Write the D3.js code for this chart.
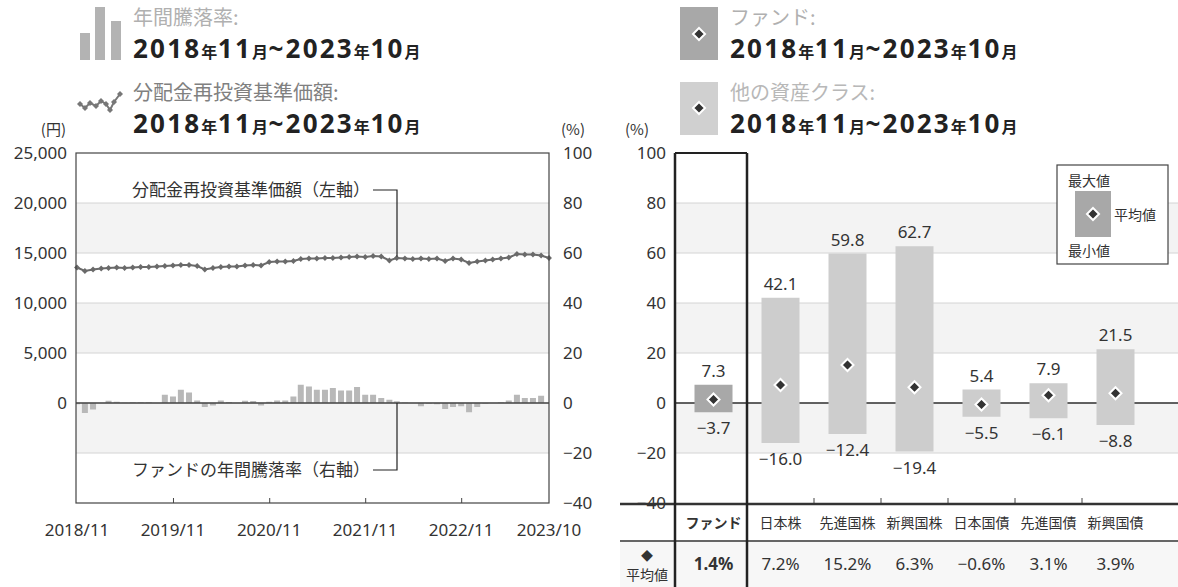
<!DOCTYPE html>
<html>
<head>
<meta charset="utf-8">
<script src="https://cdn.jsdelivr.net/npm/d3@7"></script>
<style>
  body { margin: 0; background: #fff; }
  text { font-family: "Noto Sans CJK JP", "Noto Sans", sans-serif; fill: #333; }
  .num, .num text { font-family: "Noto Sans", "Noto Sans CJK JP", sans-serif; }
</style>
</head>
<body>
<div id="chart"></div>
<script>
// ---- data ----
const startMonth = new Date(2018, 10, 1);
const endMonth = new Date(2023, 9, 1);
const xTickDates = [new Date(2018, 10, 1), new Date(2019, 10, 1), new Date(2020, 10, 1),
  new Date(2021, 10, 1), new Date(2022, 10, 1), new Date(2023, 9, 1)];

// 分配金再投資基準価額 (円), 2018/11 .. 2023/10
const navValues = [13550, 13200, 13350, 13450, 13500, 13550, 13500, 13550, 13600, 13600,
  13650, 13700, 13750, 13800, 13800, 13700, 13350, 13500, 13600, 13650,
  13650, 13750, 13800, 13750, 14100, 14150, 14150, 14200, 14400, 14450,
  14450, 14500, 14500, 14550, 14600, 14650, 14600, 14700, 14650, 14250,
  14500, 14450, 14400, 14450, 14400, 14450, 14200, 14450, 14350, 14000,
  14150, 14250, 14350, 14450, 14550, 14900, 14850, 14850, 14750, 14500];

// ファンドの年間騰落率 (%)
const returnValues = [-0.5, -4.0, -2.6, 0.0, 0.9, 0.5, 0.1, 0.3, 0.3, 0.3,
  0.0, 3.3, 2.6, 5.3, 4.2, 1.0, -1.6, -1.0, 1.0, 0.4,
  0.0, 0.9, 0.8, -1.0, 0.5, 1.0, 1.0, 2.6, 7.3, 6.6,
  5.3, 5.3, 6.0, 5.0, 5.0, 6.4, 3.3, 3.3, 2.0, 1.3,
  0.7, 0.2, 0.0, -1.3, -0.3, -0.5, -2.4, -1.6, -1.3, -3.7,
  -1.6, -0.3, 0.0, 0.3, 1.0, 3.3, 2.0, 2.0, 2.9, 0.0];

const leftTicks = [0, 5000, 10000, 15000, 20000, 25000];
const pctTicks = [-40, -20, 0, 20, 40, 60, 80, 100];

const categories = ['ファンド', '日本株', '先進国株', '新興国株', '日本国債', '先進国債', '新興国債'];
const maxValues = [7.3, 42.1, 59.8, 62.7, 5.4, 7.9, 21.5];
const minValues = [-3.7, -16.0, -12.4, -19.4, -5.5, -6.1, -8.8];
const avgValues = [1.4, 7.2, 15.2, 6.3, -0.6, 3.1, 3.9];

// ---- layout ----
const W = 1178, H = 587;
const svg = d3.select('#chart').append('svg')
  .attr('width', W)
  .attr('height', H);

const plotTop = 153, plotBottom = 503;
const L = {x0: 76, x1: 549};
const R = {x0: 675, x1: 1178};

const fmtPct = d3.format('.1f');
const months = d3.timeMonth.range(startMonth, d3.timeMonth.offset(endMonth, 1));

const x = d3.scaleTime()
  .domain([startMonth, endMonth])
  .range([L.x0 + 1, L.x1]);
const yLeft = d3.scaleLinear().domain([-10000, 25000]).range([plotBottom, plotTop]);
const yPct = d3.scaleLinear().domain([-40, 100]).range([plotBottom, plotTop]);

// legend period text with small 年/月
function period(g, px, py) {
  const t = g.append('text').attr('x', px).attr('y', py)
    .style('font-weight', 700).style('fill', '#222');
  const parts = [['2018', 26], ['年', 16], ['11', 26], ['月', 16], ['~2023', 26], ['年', 16], ['10', 26], ['月', 16]];
  parts.forEach(([s, fs]) => t.append('tspan')
    .style('font-size', fs + 'px')
    .style('font-family', fs > 20 ? '"Noto Sans", sans-serif' : '"Noto Sans CJK JP", sans-serif')
    .style('letter-spacing', fs > 20 ? '2.2px' : '0.5px')
    .style('fill', '#222')
    .text(s));
}

function diamond(g, cx, cy, r) {
  g.append('path')
    .attr('d', `M${cx},${cy - r}L${cx + r},${cy}L${cx},${cy + r}L${cx - r},${cy}Z`)
    .attr('fill', '#333')
    .attr('stroke', '#fff')
    .attr('stroke-width', 2);
}

function bands(g, x0, x1) {
  pctTicks.slice(0, -1).forEach((v, i) => {
    if (i % 2 === 1) {
      g.append('rect')
        .attr('x', x0).attr('width', x1 - x0)
        .attr('y', yPct(v + 20)).attr('height', yPct(v) - yPct(v + 20))
        .attr('fill', '#f3f3f3');
    }
  });
  pctTicks.slice(1, -1).forEach(v => {
    g.append('line')
      .attr('x1', x0).attr('x2', x1)
      .attr('y1', yPct(v)).attr('y2', yPct(v))
      .attr('stroke', '#d4d4d4').attr('stroke-width', 1);
  });
}

// ---- top legends ----
const leg = svg.append('g');
[[80, 33, 10], [95, 7, 10], [111, 21, 10]].forEach(([bx, by, bw]) => {
  leg.append('rect').attr('x', bx).attr('y', by).attr('width', bw).attr('height', 60 - by).attr('fill', '#b3b3b3');
});
leg.append('text').attr('x', 133).attr('y', 24.5).style('font-size', '20px').style('fill', '#b0b0b0').text('年間騰落率:');
period(leg, 133, 58);

const iconPts = [[80, 104], [85, 108], [90, 103], [96, 106], [101, 101], [106, 104], [110, 110], [114, 102], [120, 94]];
leg.append('path').attr('d', d3.line()(iconPts)).attr('fill', 'none').attr('stroke', '#777').attr('stroke-width', 2);
iconPts.forEach(([px, py]) => leg.append('path').attr('d', `M${px},${py - 3}L${px + 3},${py}L${px},${py + 3}L${px - 3},${py}Z`).attr('fill', '#777'));
leg.append('text').attr('x', 133).attr('y', 99.5).style('font-size', '20px').style('fill', '#808080').text('分配金再投資基準価額:');
period(leg, 133, 133);

leg.append('rect').attr('x', 680).attr('y', 7).attr('width', 38).attr('height', 53).attr('fill', '#a8a8a8');
diamond(leg, 699, 34, 6);
leg.append('text').attr('x', 730).attr('y', 24.5).style('font-size', '20px').style('fill', '#b0b0b0').text('ファンド:');
period(leg, 730, 58);

leg.append('rect').attr('x', 680).attr('y', 82).attr('width', 38).attr('height', 53).attr('fill', '#d0d0d0');
diamond(leg, 699, 108, 6);
leg.append('text').attr('x', 730).attr('y', 99.5).style('font-size', '20px').style('fill', '#b8b8b8').text('他の資産クラス:');
period(leg, 730, 133);

// ---- left chart ----
const gl = svg.append('g');
bands(gl, L.x0, L.x1);

const clip = svg.append('clipPath').attr('id', 'clipL');
clip.append('rect').attr('x', L.x0).attr('y', plotTop).attr('width', L.x1 - L.x0).attr('height', plotBottom - plotTop);

gl.append('g').attr('clip-path', 'url(#clipL)')
  .selectAll('rect')
  .data(returnValues)
  .enter().append('rect')
    .attr('x', (d, i) => x(months[i]) - 3)
    .attr('width', 6)
    .attr('y', d => yPct(Math.max(0, d)))
    .attr('height', d => Math.abs(yPct(d) - yPct(0)))
    .attr('fill', '#b8b8b8');

gl.append('line')
  .attr('x1', L.x0).attr('x2', L.x1)
  .attr('y1', yPct(0)).attr('y2', yPct(0))
  .attr('stroke', '#444').attr('stroke-width', 1.5);

const navLine = d3.line()
  .x((d, i) => x(months[i]))
  .y(d => yLeft(d));
gl.append('path')
  .attr('d', navLine(navValues))
  .attr('fill', 'none')
  .attr('stroke', '#6a6a6a')
  .attr('stroke-width', 2);
gl.selectAll('.nav-pt')
  .data(navValues)
  .enter().append('path')
    .attr('class', 'nav-pt')
    .attr('d', d3.symbol(d3.symbolDiamond2, 22))
    .attr('transform', (d, i) => `translate(${x(months[i])},${yLeft(d)})`)
    .attr('fill', '#6a6a6a');

// annotations
gl.append('text').attr('x', 370).attr('y', 196).attr('text-anchor', 'end')
  .style('font-size', '17px').text('分配金再投資基準価額（左軸）');
gl.append('path').attr('d', `M373,190H397V${yLeft(navValues[41]) - 2}`)
  .attr('fill', 'none').attr('stroke', '#222').attr('stroke-width', 1.2);
gl.append('text').attr('x', 370).attr('y', 476).attr('text-anchor', 'end')
  .style('font-size', '17px').text('ファンドの年間騰落率（右軸）');
gl.append('path').attr('d', `M373,470H397V${yPct(0)}`)
  .attr('fill', 'none').attr('stroke', '#222').attr('stroke-width', 1.2);

// frame
gl.append('rect').attr('x', L.x0).attr('y', plotTop).attr('width', L.x1 - L.x0).attr('height', plotBottom - plotTop)
  .attr('fill', 'none').attr('stroke', '#444').attr('stroke-width', 1.2);

// axes
const axL = gl.append('g').attr('class', 'num').attr('transform', `translate(${L.x0},0)`)
  .call(d3.axisLeft(yLeft).tickValues(leftTicks).tickSize(0).tickPadding(9).tickFormat(d3.format(',')));
const axR = gl.append('g').attr('class', 'num').attr('transform', `translate(${L.x1},0)`)
  .call(d3.axisRight(yPct).tickValues(pctTicks).tickSize(0).tickPadding(14).tickFormat(d3.format('d')));
const axB = gl.append('g').attr('transform', `translate(0,${plotBottom})`)
  .call(d3.axisTop(x).tickValues(xTickDates).tickSize(5).tickFormat(''));
axB.selectAll('.tick').filter((d, i) => i === 0 || i === xTickDates.length - 1).remove();
gl.selectAll('.x-lab')
  .data(xTickDates)
  .enter().append('text')
    .attr('class', 'x-lab num')
    .attr('x', d => x(d))
    .attr('y', 536)
    .attr('text-anchor', 'middle')
    .style('font-size', '17px')
    .text(d3.timeFormat('%Y/%m'));
[axL, axR, axB].forEach(a => {
  a.select('.domain').remove();
  a.selectAll('text').style('font-size', '17px').style('fill', '#333');
  a.selectAll('line').attr('stroke', '#444');
});
gl.append('text').attr('x', 66).attr('y', 135).attr('text-anchor', 'end').style('font-size', '15px').text('(円)');
gl.append('text').attr('x', 573).attr('y', 135).attr('text-anchor', 'middle').style('font-size', '15px').text('(%)');

// ---- right chart ----
const gr = svg.append('g');
bands(gr, R.x0, R.x1);

const xc = d3.scaleBand()
  .domain(categories)
  .range([680, 1149]);

gr.append('line')
  .attr('x1', R.x0).attr('x2', R.x1)
  .attr('y1', yPct(0)).attr('y2', yPct(0))
  .attr('stroke', '#333').attr('stroke-width', 1.5);

const bw = 38;
gr.selectAll('.rng')
  .data(categories)
  .enter().append('rect')
    .attr('class', 'rng')
    .attr('x', d => xc(d) + xc.bandwidth() / 2 - bw / 2)
    .attr('width', bw)
    .attr('y', (d, i) => yPct(maxValues[i]))
    .attr('height', (d, i) => yPct(minValues[i]) - yPct(maxValues[i]))
    .attr('fill', (d, i) => i === 0 ? '#a8a8a8' : '#cdcdcd');

categories.forEach((c, i) => {
  const cx = xc(c) + xc.bandwidth() / 2;
  diamond(gr, cx, yPct(avgValues[i]), 6);
  gr.append('text').attr('class', 'num').attr('x', cx).attr('y', yPct(maxValues[i]) - 8)
    .attr('text-anchor', 'middle').style('font-size', '17px').text(fmtPct(maxValues[i]));
  gr.append('text').attr('class', 'num').attr('x', cx).attr('y', yPct(minValues[i]) + 22)
    .attr('text-anchor', 'middle').style('font-size', '17px').text(fmtPct(minValues[i]));
});

// bottom ticks between categories
gr.selectAll('.ctick')
  .data(categories.slice(1, -1))
  .enter().append('line')
    .attr('class', 'ctick')
    .attr('x1', d => xc(d) + xc.step()).attr('x2', d => xc(d) + xc.step())
    .attr('y1', plotBottom).attr('y2', plotBottom - 5)
    .attr('stroke', '#444');

const axR2 = gr.append('g').attr('class', 'num').attr('transform', `translate(${R.x0},0)`)
  .call(d3.axisLeft(yPct).tickValues(pctTicks).tickSize(0).tickPadding(9).tickFormat(d3.format('d')));
axR2.select('.domain').remove();
axR2.selectAll('text').style('font-size', '17px').style('fill', '#333');
gr.append('text').attr('x', 637).attr('y', 135).attr('text-anchor', 'middle').style('font-size', '15px').text('(%)');

// mini legend
const ml = gr.append('g');
ml.append('rect').attr('x', 1057).attr('y', 165).attr('width', 111).attr('height', 99)
  .attr('fill', '#fff').attr('stroke', '#444').attr('stroke-width', 1.2);
ml.append('text').attr('x', 1068).attr('y', 186).style('font-size', '14px').text('最大値');
ml.append('rect').attr('x', 1075).attr('y', 191).attr('width', 36).attr('height', 46).attr('fill', '#a8a8a8');
diamond(ml, 1093, 214, 6);
ml.append('text').attr('x', 1114).attr('y', 220).style('font-size', '14px').text('平均値');
ml.append('text').attr('x', 1068).attr('y', 256).style('font-size', '14px').text('最小値');

// table
const tb = gr.append('g');
tb.append('rect').attr('x', R.x0 - 55).attr('y', 542).attr('width', R.x1 - R.x0 + 55).attr('height', H - 542).attr('fill', '#f7f7f7');
tb.append('line').attr('x1', R.x0 - 55).attr('x2', R.x1).attr('y1', plotBottom + 1).attr('y2', plotBottom + 1)
  .attr('stroke', '#333').attr('stroke-width', 2.5);
tb.append('line').attr('x1', R.x0 - 55).attr('x2', R.x1).attr('y1', 541).attr('y2', 541)
  .attr('stroke', '#333').attr('stroke-width', 1.5);
[R.x0, xc(categories[1])].forEach(vx => {
  tb.append('line').attr('x1', vx).attr('x2', vx).attr('y1', plotTop).attr('y2', H)
    .attr('stroke', '#222').attr('stroke-width', 2.5);
});
tb.append('line').attr('x1', R.x0).attr('x2', xc(categories[1])).attr('y1', plotTop).attr('y2', plotTop)
  .attr('stroke', '#222').attr('stroke-width', 2);
categories.forEach((c, i) => {
  const cx = xc(c) + xc.bandwidth() / 2;
  tb.append('text').attr('x', cx).attr('y', 528).attr('text-anchor', 'middle')
    .style('font-size', '14px').style('font-weight', i === 0 ? 700 : 400).text(c);
  tb.append('text').attr('class', 'num').attr('x', cx).attr('y', 570).attr('text-anchor', 'middle')
    .style('font-size', '17px').style('font-weight', i === 0 ? 700 : 400).text(d3.format('.1f')(avgValues[i]) + '%');
});
tb.append('text').attr('x', 647).attr('y', 561).attr('text-anchor', 'middle').style('font-size', '12px').text('◆');
tb.append('text').attr('x', 647).attr('y', 580).attr('text-anchor', 'middle').style('font-size', '14px').text('平均値');
</script>
</body>
</html>
